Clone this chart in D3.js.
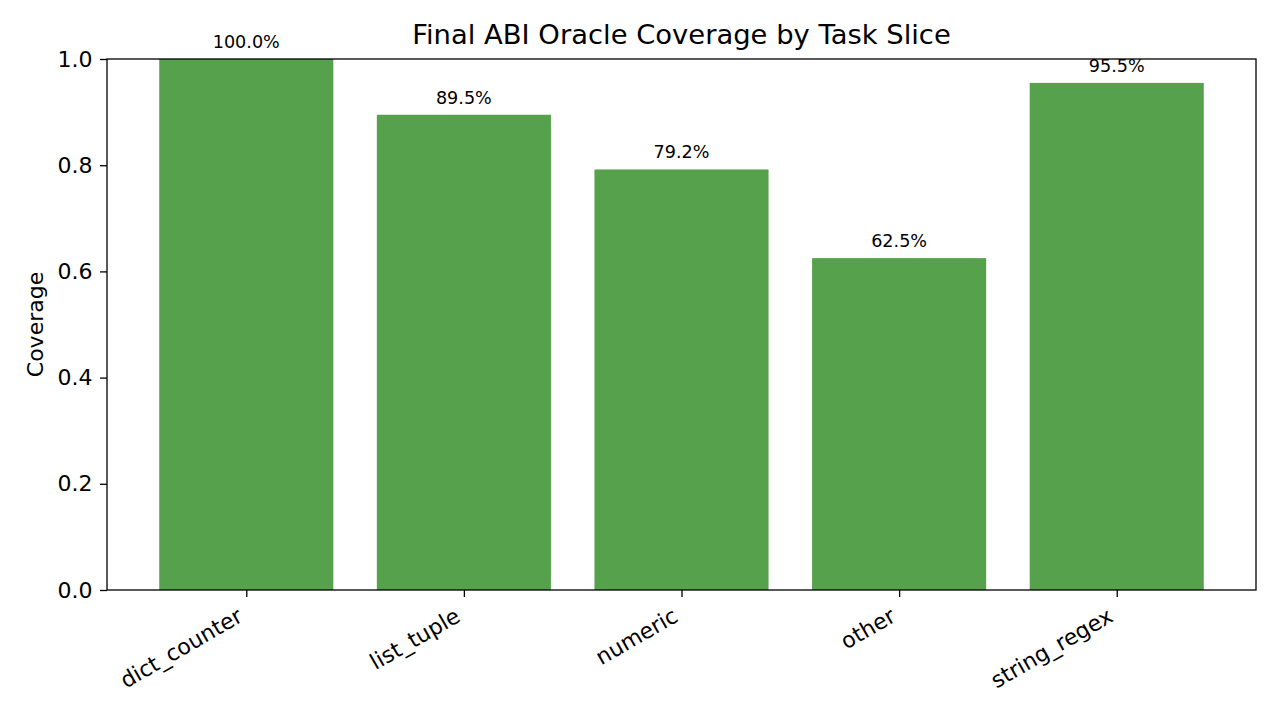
<!DOCTYPE html>
<html><head><meta charset="utf-8">
<script src="https://cdn.jsdelivr.net/npm/d3@7"></script>
<style>body{margin:0;background:#fff}svg{display:block}text{font-family:"DejaVu Sans",sans-serif}</style>
</head><body>
<svg id="c" width="1280" height="720"></svg>
<script>
const categories = ["dict_counter","list_tuple","numeric","other","string_regex"];
const coverage = [1.0, 0.895, 0.792, 0.625, 0.955];
const yTicks = [0.0,0.2,0.4,0.6,0.8,1.0];

const svg = d3.select("#c");
const L=107, R=1256, T=59, B=590;
const n = categories.length;
const x = d3.scaleLinear().domain([-0.64, n-1+0.64]).range([L,R]);
const y = d3.scaleLinear().domain([0,1]).range([B,T]);
const bw = x(0.8)-x(0);
const color="#56a24c";

svg.append("g").selectAll("rect").data(coverage).join("rect")
  .attr("x",(d,i)=>x(i)-bw/2).attr("width",bw)
  .attr("y",d=>y(d)).attr("height",d=>B-y(d)).attr("fill",color);

svg.append("g").selectAll("text").data(coverage).join("text")
  .attr("x",(d,i)=>x(i)).attr("y",d=>y(d)-11)
  .attr("text-anchor","middle").attr("font-size","17.6px").attr("fill","#000")
  .text(d=>(d*100).toFixed(1)+"%");

// y axis
const ya = svg.append("g").attr("transform",`translate(${L},0)`)
  .call(d3.axisLeft(y).tickValues(yTicks).tickFormat(d3.format(".1f")).tickSize(7).tickPadding(7.5));
ya.select(".domain").remove();
ya.selectAll("text").attr("font-size","22px").attr("fill","#000").attr("font-family","DejaVu Sans");
ya.selectAll("line").attr("stroke","#000").attr("stroke-width",1.3);

// x axis
const xa = svg.append("g").attr("transform",`translate(0,${B})`)
  .call(d3.axisBottom(x).tickValues(d3.range(n)).tickFormat(i=>categories[i]).tickSize(7));
xa.select(".domain").remove();
xa.selectAll("line").attr("stroke","#000").attr("stroke-width",1.3);
xa.selectAll("text").attr("font-size","22px").attr("fill","#000").attr("font-family","DejaVu Sans")
  .attr("text-anchor","end").attr("dy",null).attr("y",0)
  .attr("transform","translate(-2.6,30.5) rotate(-30)");

// frame
svg.append("rect").attr("x",L).attr("y",T).attr("width",R-L).attr("height",B-T)
  .attr("fill","none").attr("stroke","#000").attr("stroke-width",1.3);

svg.append("text").attr("x",(L+R)/2).attr("y",44).attr("text-anchor","middle")
  .attr("font-size","27.4px").text("Final ABI Oracle Coverage by Task Slice");

svg.append("text").attr("transform",`translate(43,${(T+B)/2}) rotate(-90)`)
  .attr("text-anchor","middle").attr("font-size","22px").text("Coverage");
</script>
</body></html>
